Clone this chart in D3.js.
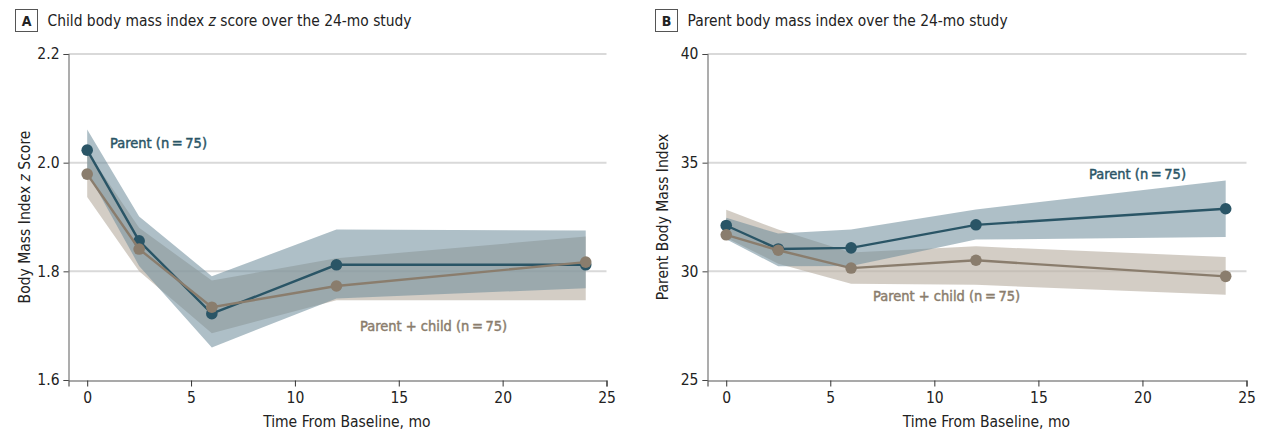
<!DOCTYPE html>
<html>
<head>
<meta charset="utf-8">
<script src="https://cdn.jsdelivr.net/npm/d3@7"></script>
<style>
  html, body { margin: 0; padding: 0; background: #fff; }
  svg { display: block; }
  text { font-family: "Liberation Sans Narrow", "DejaVu Sans Condensed", "Roboto Condensed", "Open Sans", sans-serif; }
</style>
</head>
<body>
<svg id="chart" width="1264" height="432"></svg>
<script>
// ---------- data ----------
const months = [0, 2.5, 6, 12, 24];
const xTicks = [0, 5, 10, 15, 20, 25];

// Panel A: child BMI z score
const childParentMean  = [2.023, 1.856, 1.722, 1.812, 1.812];
const childParentLow   = [1.983, 1.810, 1.660, 1.750, 1.769];
const childParentHigh  = [2.061, 1.901, 1.791, 1.877, 1.875];
const childPCMean      = [1.979, 1.841, 1.734, 1.773, 1.817];
const childPCLow       = [1.937, 1.800, 1.686, 1.747, 1.747];
const childPCHigh      = [2.021, 1.880, 1.783, 1.824, 1.864];
const childYTicks = [1.6, 1.8, 2.0, 2.2];

// Panel B: parent BMI
const adultParentMean  = [32.11, 31.03, 31.08, 32.14, 32.88];
const adultParentLow   = [31.48, 30.23, 30.24, 31.46, 31.58];
const adultParentHigh  = [32.46, 31.74, 31.92, 32.85, 34.18];
const adultPCMean      = [31.68, 30.97, 30.15, 30.51, 29.77];
const adultPCLow       = [31.55, 30.35, 29.43, 29.38, 28.92];
const adultPCHigh      = [32.83, 31.92, 30.87, 31.15, 30.66];
const adultYTicks = [25, 30, 35, 40];

const seriesNames = ["Parent (n\u2009=\u200975)", "Parent + child (n\u2009=\u200975)"];

// ---------- style ----------
const C_PARENT = "#2a5566";
const C_PC = "#8a7d6d";
const F_PARENT = "rgb(110,140,156)";
const F_PC = "rgb(188,178,166)";

const svg = d3.select("#chart");

function panel(opts) {
  const g = svg.append("g");
  const x = d3.scaleLinear().domain([-0.9, 25]).range([opts.x0, opts.x1]);
  const y = d3.scaleLinear().domain(opts.yDomain).range([380, 54]);

  // title
  g.append("rect").attr("x", opts.bx).attr("y", 9.5).attr("width", 22).attr("height", 22)
    .attr("fill", "none").attr("stroke", "#555").attr("stroke-width", 1);
  g.append("text").attr("x", opts.bx + 11).attr("y", 26).attr("text-anchor", "middle")
    .attr("font-size", 14).attr("font-weight", "bold").attr("fill", "#222").text(opts.letter);
  const t = g.append("text").attr("x", opts.bx + 32).attr("y", 26)
    .attr("font-size", 15.4).attr("fill", "#222");
  opts.title.forEach(p => t.append("tspan").attr("font-style", p.it ? "italic" : null).text(p.s));

  // gridlines
  g.append("g").selectAll("line").data(opts.yTicks.slice(1)).join("line")
    .attr("x1", opts.x0).attr("x2", opts.x1)
    .attr("y1", d => y(d)).attr("y2", d => y(d))
    .attr("stroke", "#d9d9d9").attr("stroke-width", 2);

  // bands
  const area = d3.area().x((d, i) => x(months[i])).y0(d => y(d[0])).y1(d => y(d[1]));
  g.append("path").datum(opts.pcLow.map((v, i) => [v, opts.pcHigh[i]]))
    .attr("d", area).attr("fill", F_PC).attr("fill-opacity", 0.65);
  g.append("path").datum(opts.pLow.map((v, i) => [v, opts.pHigh[i]]))
    .attr("d", area).attr("fill", F_PARENT).attr("fill-opacity", 0.56);

  // lines
  const line = d3.line().x((d, i) => x(months[i])).y(d => y(d));
  const drawSeries = (vals, col) => {
    g.append("path").datum(vals).attr("d", line).attr("fill", "none")
      .attr("stroke", col).attr("stroke-width", 2.4);
    g.append("g").selectAll("circle").data(vals).join("circle")
      .attr("cx", (d, i) => x(months[i])).attr("cy", d => y(d)).attr("r", 5.8).attr("fill", col);
  };
  drawSeries(opts.pMean, C_PARENT);
  drawSeries(opts.pcMean, C_PC);

  // axes
  const ya = g.append("g").attr("transform", `translate(${opts.x0},0)`)
    .call(d3.axisLeft(y).tickValues(opts.yTicks).tickFormat(opts.yFmt).tickSizeOuter(0).tickSize(5));
  ya.select(".domain").attr("stroke", "#777").attr("stroke-width", 1.2);
  ya.selectAll(".tick line").attr("stroke", "#444");
  ya.selectAll(".tick text").attr("font-size", 15.5).attr("fill", "#222").attr("dx", "-1");

  const xa = g.append("g").attr("transform", "translate(0,380.5)")
    .call(d3.axisBottom(x).tickValues(xTicks).tickFormat(d3.format("d")).tickSizeOuter(0).tickSize(6));
  xa.select(".domain").attr("stroke", "#555").attr("stroke-width", 1.2);
  xa.selectAll(".tick line").attr("stroke", "#333");
  xa.selectAll(".tick text").attr("font-size", 15.5).attr("fill", "#222").attr("dy", "0.85em");

  // axis titles
  g.append("text").attr("x", (x(0) + x(25)) / 2).attr("y", 427).attr("text-anchor", "middle")
    .attr("font-size", 15.5).attr("fill", "#222").text("Time From Baseline, mo");
  const yt = g.append("text").attr("transform", `translate(${opts.ytx},${opts.yty}) rotate(-90)`)
    .attr("text-anchor", "middle").attr("font-size", 15.5).attr("fill", "#222");
  opts.yTitle.forEach(p => yt.append("tspan").attr("font-style", p.it ? "italic" : null).text(p.s));

  // series labels
  g.append("text").attr("x", opts.lp[0]).attr("y", opts.lp[1]).attr("font-size", 14.5)
    .attr("fill", C_PARENT).attr("stroke", C_PARENT).attr("stroke-width", 0.45).text(seriesNames[0]);
  g.append("text").attr("x", opts.lpc[0]).attr("y", opts.lpc[1]).attr("font-size", 14.5)
    .attr("fill", C_PC).attr("stroke", C_PC).attr("stroke-width", 0.45).text(seriesNames[1]);
}

panel({
  letter: "A", bx: 15.5,
  title: [{s: "Child body mass index "}, {s: "z", it: true}, {s: " score over the 24-mo study"}],
  x0: 68.5, x1: 606.5, yDomain: [1.6, 2.2], yTicks: childYTicks, yFmt: d3.format(".1f"),
  pMean: childParentMean, pLow: childParentLow, pHigh: childParentHigh,
  pcMean: childPCMean, pcLow: childPCLow, pcHigh: childPCHigh,
  ytx: 30, yty: 217,
  yTitle: [{s: "Body Mass Index "}, {s: "z", it: true}, {s: " Score"}],
  lp: [110, 148], lpc: [360, 331]
});

panel({
  letter: "B", bx: 655.5,
  title: [{s: "Parent body mass index over the 24-mo study"}],
  x0: 707.5, x1: 1246.5, yDomain: [25, 40], yTicks: adultYTicks, yFmt: d3.format("d"),
  pMean: adultParentMean, pLow: adultParentLow, pHigh: adultParentHigh,
  pcMean: adultPCMean, pcLow: adultPCLow, pcHigh: adultPCHigh,
  ytx: 668, yty: 217,
  yTitle: [{s: "Parent Body Mass Index"}],
  lp: [1089, 179], lpc: [873, 301]
});
</script>
</body>
</html>
